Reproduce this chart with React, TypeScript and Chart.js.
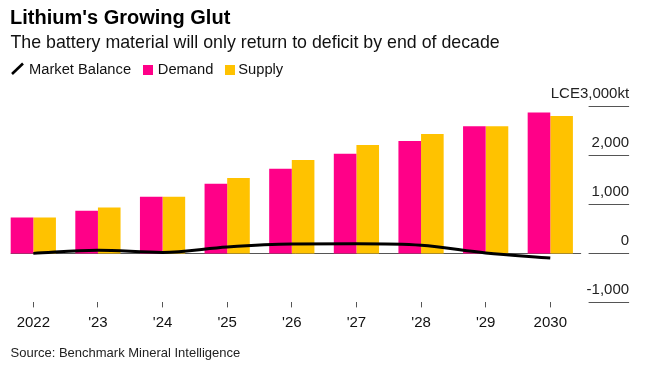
import React, { useEffect, useRef } from "react";
import { Chart, registerables } from "chart.js";

Chart.register(...registerables);

const categories = ["2022", "'23", "'24", "'25", "'26", "'27", "'28", "'29", "2030"];
const demand = [730, 870, 1155, 1420, 1725, 2030, 2290, 2595, 2875];
const supply = [730, 935, 1155, 1540, 1905, 2210, 2435, 2595, 2800];
const balance = [0, 65, 20, 130, 190, 195, 165, 10, -95];
const yMin = -1000;
const yMax = 3000;
const yStep = 1000;
const unitPrefix = "LCE";
const unitSuffix = "kt";

const title = "Lithium's Growing Glut";
const subtitle = "The battery material will only return to deficit by end of decade";
const source = "Source: Benchmark Mineral Intelligence";

const DEMAND_COLOR = "#FF0088";
const SUPPLY_COLOR = "#FFC200";
const FONT = "'Liberation Sans', Arial, Helvetica, sans-serif";

const axisPlugin = {
  id: "customAxis",
  beforeDatasetsDraw(chart: any) {
    const { ctx, chartArea } = chart;
    const y = chart.scales.y;
    const meta = chart.getDatasetMeta(1);
    const first = meta.data[0] as any;
    const left = first ? first.x - first.width / 2 : chartArea.left;
    const py = Math.round(y.getPixelForValue(0)) + 0.5;
    ctx.save();
    ctx.strokeStyle = "#555";
    ctx.lineWidth = 1;
    ctx.beginPath();
    ctx.moveTo(left, py);
    ctx.lineTo(chartArea.right - 1.5, py);
    ctx.stroke();
    ctx.restore();
  },
  afterDraw(chart: any) {
    const { ctx, chartArea } = chart;
    const y = chart.scales.y;
    const x0 = chartArea.right + 6;
    const x1 = chartArea.right + 46.5;
    ctx.save();
    ctx.font = `15px ${FONT}`;
    ctx.fillStyle = "#222";
    ctx.textAlign = "right";
    ctx.textBaseline = "alphabetic";
    y.ticks.forEach((t: any) => {
      const py = Math.round(y.getPixelForValue(t.value)) + 0.5;
      ctx.strokeStyle = "#555";
      ctx.lineWidth = 1;
      ctx.beginPath();
      ctx.moveTo(x0, py);
      ctx.lineTo(x1, py);
      ctx.stroke();
      const label = Array.isArray(t.label) ? t.label.join(" ") : String(t.label);
      ctx.fillText(label, x1, py - 9);
    });
    ctx.restore();
  },
};

function ChartCanvas() {
  const ref = useRef<HTMLCanvasElement | null>(null);
  useEffect(() => {
    if (!ref.current) return;
    const chart = new Chart(ref.current, {
      type: "bar",
      data: {
        labels: categories,
        datasets: [
          {
            type: "line",
            label: "Market Balance",
            data: balance,
            borderColor: "#000",
            borderWidth: 3,
            pointRadius: 0,
            cubicInterpolationMode: "monotone",
            fill: false,
            order: 0,
          } as any,
          {
            type: "bar",
            label: "Demand",
            data: demand,
            backgroundColor: DEMAND_COLOR,
            categoryPercentage: 0.7,
            barPercentage: 1,
            order: 1,
          },
          {
            type: "bar",
            label: "Supply",
            data: supply,
            backgroundColor: SUPPLY_COLOR,
            categoryPercentage: 0.7,
            barPercentage: 1,
            order: 1,
          },
        ],
      },
      options: {
        responsive: false,
        animation: false,
        layout: { padding: { left: 1, right: 87.4, top: 106.3, bottom: 44.6 } },
        plugins: { legend: { display: false }, tooltip: { enabled: false } },
        scales: {
          x: {
            offset: true,
            grid: {
              offset: false,
              drawOnChartArea: false,
              drawTicks: true,
              tickLength: 5,
              color: "#555",
            },
            border: { display: false },
            ticks: {
              padding: 6,
              color: "#111",
              font: { family: FONT, size: 15 },
              maxRotation: 0,
              autoSkip: false,
            },
          },
          y: {
            display: false,
            min: yMin,
            max: yMax,
            ticks: {
              stepSize: yStep,
              callback: (v: any) => {
                const s = Number(v).toLocaleString("en-US");
                return Number(v) === yMax ? unitPrefix + s + unitSuffix : s;
              },
            },
          },
        },
      },
      plugins: [axisPlugin],
    });
    return () => chart.destroy();
  }, []);
  return (
    <canvas
      ref={ref}
      width={670}
      height={382}
      style={{ position: "absolute", left: 0, top: 0, width: 670, height: 382 }}
    />
  );
}

const textBase: React.CSSProperties = {
  position: "absolute",
  margin: 0,
  whiteSpace: "nowrap",
  lineHeight: 1,
  fontFamily: FONT,
  color: "#111",
};

export default function App() {
  return (
    <div
      style={{
        position: "absolute",
        left: 0,
        top: 0,
        width: 670,
        height: 382,
        background: "#fff",
        overflow: "hidden",
      }}
    >
      <ChartCanvas />
      <div style={{ ...textBase, left: 10, top: 7.4, fontSize: 20, fontWeight: 700, color: "#000" }}>
        {title}
      </div>
      <div style={{ ...textBase, left: 10.5, top: 34.2, fontSize: 17.8 }}>{subtitle}</div>
      <svg
        style={{ position: "absolute", left: 10, top: 62 }}
        width={15}
        height={14}
        viewBox="0 0 15 14"
      >
        <line x1={2} y1={12} x2={13} y2={1.5} stroke="#000" strokeWidth={2.6} />
      </svg>
      <div style={{ ...textBase, left: 29, top: 61.5, fontSize: 14.7 }}>Market Balance</div>
      <div
        style={{ position: "absolute", left: 143, top: 64.5, width: 10, height: 10, background: DEMAND_COLOR }}
      />
      <div style={{ ...textBase, left: 157.8, top: 61.5, fontSize: 14.7 }}>Demand</div>
      <div
        style={{ position: "absolute", left: 224.5, top: 64.5, width: 10, height: 10, background: SUPPLY_COLOR }}
      />
      <div style={{ ...textBase, left: 238.3, top: 61.5, fontSize: 14.7 }}>Supply</div>
      <div style={{ ...textBase, left: 10.5, top: 345.7, fontSize: 13, color: "#222" }}>{source}</div>
    </div>
  );
}
